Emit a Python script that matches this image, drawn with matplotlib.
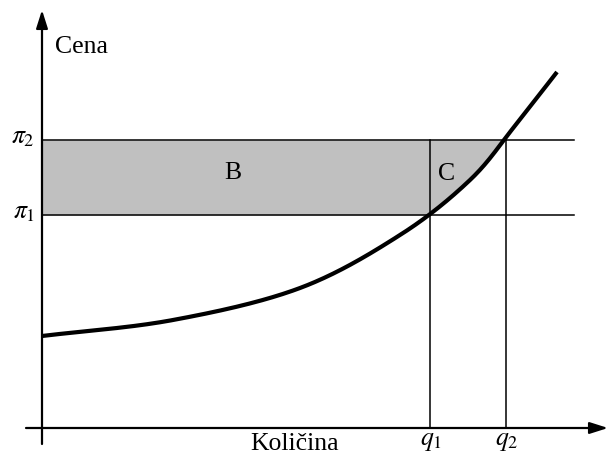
import numpy as np
import matplotlib
matplotlib.use("Agg")
import matplotlib.pyplot as plt

plt.rcParams['font.family'] = ['Liberation Serif', 'DejaVu Serif']
plt.rcParams['mathtext.fontset'] = 'stix'

# Supply curve (quantity, price)
curve_q = [0.0, 13.1, 25.8, 35.8, 42.8, 47.2, 51.5]
curve_p = [9.2, 10.8, 14.0, 19.3, 24.8, 30.1, 35.6]

price_levels = [21.3, 28.8]      # pi_1, pi_2
price_labels = [r'$\pi_1$', r'$\pi_2$']
quantities = [38.8, 46.4]        # q_1, q_2
quantity_labels = [r'$q_1$', r'$q_2$']
area_labels = ['B', 'C']
axis_labels = ['Količina', 'Cena']

hline_end = 53.2
fs = 18.5


def catmull_rom(xp, yp, n=60):
    """Smooth drawing path through the read points."""
    P = np.column_stack([xp, yp]).astype(float)
    P = np.vstack([2 * P[0] - P[1], P, 2 * P[-1] - P[-2]])
    out = []
    t = np.linspace(0, 1, n, endpoint=False)[:, None]
    for i in range(1, len(P) - 2):
        p0, p1, p2, p3 = P[i - 1], P[i], P[i + 1], P[i + 2]
        seg = 0.5 * ((2 * p1) + (-p0 + p2) * t + (2 * p0 - 5 * p1 + 4 * p2 - p3) * t ** 2
                     + (-p0 + 3 * p1 - 3 * p2 + p3) * t ** 3)
        out.append(seg)
    out.append(P[-2][None, :])
    S = np.vstack(out)
    return S[:, 0], S[:, 1]


sx, sy = catmull_rom(curve_q, curve_p)

fig = plt.figure(figsize=(6.08, 4.59), dpi=100)
ax = fig.add_axes([0, 0, 1, 1])
ax.set_xlim(-4.2, 56.6)
ax.set_ylim(-3.1, 42.8)
ax.axis('off')

p1, p2 = price_levels
q1, q2 = quantities

# shaded area between pi_1 and pi_2, left of the supply curve
xs = np.linspace(0, q2, 600)
cp = np.interp(xs, sx, sy)
lower = np.maximum(p1, cp)
ax.fill_between(xs, lower, p2, where=lower <= p2 + 1e-9, color='#c0c0c0', lw=0, zorder=1)

# horizontal price lines
for p in price_levels:
    ax.plot([0, hline_end], [p, p], color='k', lw=1.1, zorder=2)
# vertical quantity lines
for q in quantities:
    ax.plot([q, q], [0, p2], color='k', lw=1.1, zorder=2)

# supply curve
ax.plot(sx, sy, color='k', lw=3.0, solid_capstyle='butt', zorder=3)

# axes with arrows
arrow = dict(arrowstyle='-|>,head_length=1.1,head_width=0.35', lw=1.6, color='k',
             shrinkA=0, shrinkB=0, mutation_scale=10)
ax.annotate('', xy=(56.6, 0), xytext=(-1.6, 0), arrowprops=arrow, annotation_clip=False, zorder=4)
ax.annotate('', xy=(0, 41.8), xytext=(0, -1.6), arrowprops=arrow, annotation_clip=False, zorder=4)

# labels
ax.text(1.3, 38.1, axis_labels[1], fontsize=fs, ha='left', va='center')
ax.text(25.3, -1.6, axis_labels[0], fontsize=fs, ha='center', va='center')
for p, lab in zip(price_levels, price_labels):
    ax.text(-0.7, p + 0.2, lab, fontsize=fs, ha='right', va='center')
for q, lab in zip(quantities, quantity_labels):
    ax.text(q + 0.1, -1.4, lab, fontsize=fs, ha='center', va='center')
ax.text(19.1, 25.5, area_labels[0], fontsize=fs, ha='center', va='center')
ax.text(40.5, 25.4, area_labels[1], fontsize=fs, ha='center', va='center')

fig.savefig('out.png', dpi=100)
